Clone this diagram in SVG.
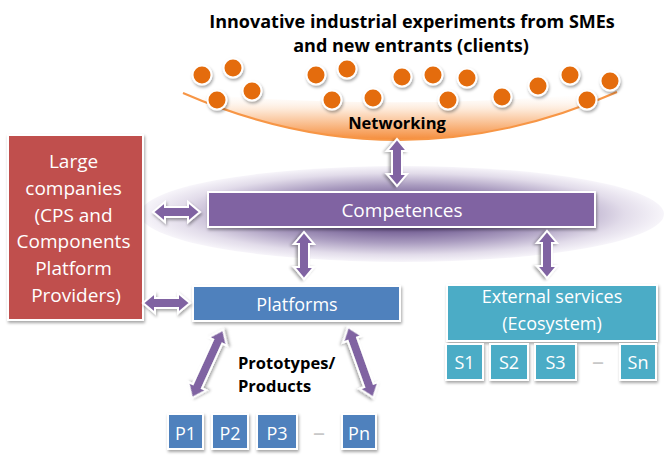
<svg xmlns="http://www.w3.org/2000/svg" width="666" height="465" viewBox="0 0 666 465">
<defs>
<style>
.t{font-family:"Open Sans","Liberation Sans",sans-serif;}
.b{font-weight:bold;fill:#000;}
.w{fill:#fff;text-anchor:middle;}
.box{stroke:#fff;stroke-width:2;filter:url(#sh);}
.arr{fill:#8064A2;stroke:#fff;stroke-width:2;filter:url(#sh);}
.dot{fill:#E46C0A;stroke:#fff;stroke-width:2;filter:url(#sh);}
</style>
<filter id="sh" x="-30%" y="-30%" width="160%" height="160%">
<feDropShadow dx="1" dy="2" stdDeviation="1.5" flood-color="#000" flood-opacity="0.35"/>
</filter>
<linearGradient id="bowl" x1="0" y1="92" x2="0" y2="140" gradientUnits="userSpaceOnUse">
<stop offset="0" stop-color="#fff" stop-opacity="0"/>
<stop offset="0.4" stop-color="#fde4cf"/>
<stop offset="1" stop-color="#F58C3A"/>
</linearGradient>
<radialGradient id="ell" cx="0.5" cy="0.5" r="0.5">
<stop offset="0" stop-color="#4d386c"/>
<stop offset="0.3" stop-color="#6e5890"/>
<stop offset="0.6" stop-color="#a99bbf"/>
<stop offset="0.85" stop-color="#e2dcea"/>
<stop offset="1" stop-color="#f7f5fa"/>
</radialGradient>
<path id="d1" d="M0,0 L12,-10 L12,-5 L35,-5 L35,-10 L47,0 L35,10 L35,5 L12,5 L12,10 Z"/>
<path id="d2" d="M0,0 L13,-10 L13,-5 L62,-5 L62,-10 L75,0 L62,10 L62,5 L13,5 L13,10 Z"/>
</defs>
<rect width="666" height="465" fill="#fff"/>

<g id="title">
<text class="t b" x="412" y="28" font-size="18" text-anchor="middle">Innovative industrial experiments from SMEs</text>
<text class="t b" x="411" y="52" font-size="18" text-anchor="middle">and new entrants (clients)</text>
</g>

<g id="networking">
<path d="M183,93 Q400,187.5 617,92 Q400,112 183,93 Z" fill="url(#bowl)"/>
<path d="M183,93 Q400,187.5 617,92" fill="none" stroke="#F79646" stroke-width="2"/>
<text class="t b" x="397" y="129" font-size="16.5" text-anchor="middle">Networking</text>
</g>

<g id="clients">
<circle class="dot" cx="202" cy="75" r="9.5"/>
<circle class="dot" cx="233" cy="68" r="9.5"/>
<circle class="dot" cx="217" cy="100" r="9.5"/>
<circle class="dot" cx="252" cy="91" r="9.5"/>
<circle class="dot" cx="316" cy="75" r="9.5"/>
<circle class="dot" cx="347" cy="69" r="9.5"/>
<circle class="dot" cx="332" cy="100" r="9.5"/>
<circle class="dot" cx="373" cy="98" r="9.5"/>
<circle class="dot" cx="402" cy="77" r="9.5"/>
<circle class="dot" cx="433" cy="75" r="9.5"/>
<circle class="dot" cx="467" cy="78" r="9.5"/>
<circle class="dot" cx="448" cy="100" r="9.5"/>
<circle class="dot" cx="502" cy="97" r="9.5"/>
<circle class="dot" cx="538" cy="86" r="9.5"/>
<circle class="dot" cx="570" cy="75" r="9.5"/>
<circle class="dot" cx="610" cy="81" r="9.5"/>
<circle class="dot" cx="587" cy="100" r="9.5"/>
</g>

<g id="ellipse">
<ellipse cx="402" cy="214" rx="262" ry="48" fill="url(#ell)"/>
</g>

<g id="large">
<rect class="box" x="8" y="135" width="135" height="185" fill="#C0504D"/>
<text class="t w" font-size="19" x="76">
<tspan x="76" y="168">Large</tspan>
<tspan x="76" y="195">companies</tspan>
<tspan x="76" y="222">(CPS and</tspan>
<tspan x="76" y="248">Components</tspan>
<tspan x="76" y="275">Platform</tspan>
<tspan x="76" y="302">Providers)</tspan>
</text>
</g>

<g id="competences">
<rect class="box" x="208" y="192" width="387" height="35" fill="#8064A2"/>
<text class="t w" x="402" y="217" font-size="19">Competences</text>
</g>

<g id="platforms">
<rect class="box" x="193" y="286" width="207" height="35" fill="#4F81BD"/>
<text class="t w" x="297" y="311" font-size="18">Platforms</text>
</g>

<g id="external">
<rect class="box" x="447" y="285" width="210" height="56" fill="#4BACC6"/>
<text class="t w" x="552" y="303" font-size="18">External services</text>
<text class="t w" x="552" y="330" font-size="18">(Ecosystem)</text>
</g>

<g id="services">
<rect class="box" x="446" y="344" width="37" height="36" fill="#4BACC6"/>
<text class="t w" x="464.5" y="369" font-size="18">S1</text>
<rect class="box" x="490" y="344" width="38" height="36" fill="#4BACC6"/>
<text class="t w" x="509" y="369" font-size="18">S2</text>
<rect class="box" x="535" y="344" width="41" height="36" fill="#4BACC6"/>
<text class="t w" x="555.5" y="369" font-size="18">S3</text>
<text class="t" x="598" y="370" font-size="24" fill="#c8c8c8" text-anchor="middle">–</text>
<rect class="box" x="620" y="344" width="36" height="36" fill="#4BACC6"/>
<text class="t w" x="638" y="369" font-size="18">Sn</text>
</g>

<g id="products">
<rect class="box" x="168" y="414" width="35" height="35" fill="#4F81BD"/>
<text class="t w" x="185.5" y="440" font-size="18">P1</text>
<rect class="box" x="212" y="414" width="36" height="35" fill="#4F81BD"/>
<text class="t w" x="230" y="440" font-size="18">P2</text>
<rect class="box" x="257" y="414" width="40" height="35" fill="#4F81BD"/>
<text class="t w" x="277" y="440" font-size="18">P3</text>
<text class="t" x="319" y="441" font-size="24" fill="#c8c8c8" text-anchor="middle">–</text>
<rect class="box" x="342" y="414" width="34" height="35" fill="#4F81BD"/>
<text class="t w" x="359" y="440" font-size="18">Pn</text>
</g>

<g id="prototypes-label">
<text class="t b" x="238" y="369" font-size="16.5">Prototypes/</text>
<text class="t b" x="238" y="392" font-size="16.5">Products</text>
</g>

<g id="connectors">
<use href="#d1" class="arr" transform="translate(397,139) rotate(90)"/>
<use href="#d1" class="arr" transform="translate(153,212)"/>
<use href="#d1" class="arr" transform="translate(143,303)"/>
<use href="#d1" class="arr" transform="translate(304,232) rotate(90)"/>
<use href="#d1" class="arr" transform="translate(547,231) rotate(90)"/>
<use href="#d2" class="arr" transform="translate(192,398) rotate(-65.5)"/>
<use href="#d2" class="arr" transform="translate(348,327) rotate(70.3)"/>
</g>
</svg>
